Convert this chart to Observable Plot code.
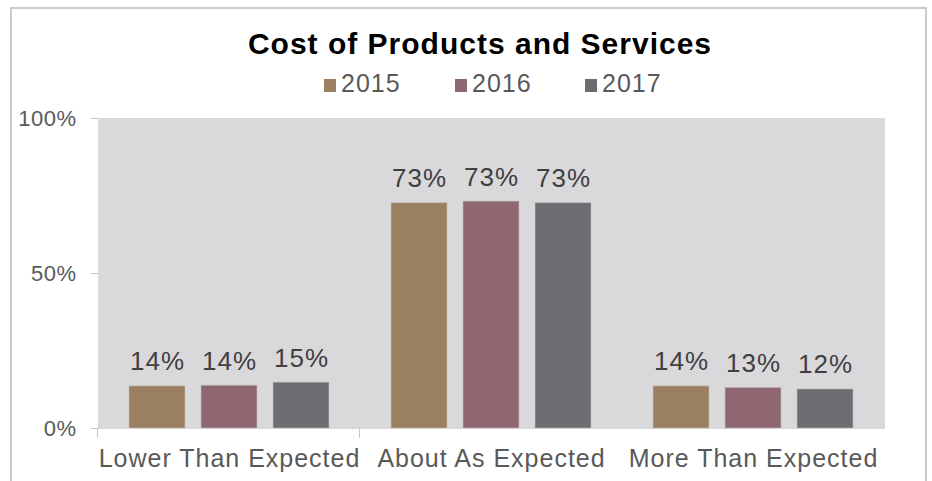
<!DOCTYPE html>
<html>
<head>
<meta charset="utf-8">
<script src="https://cdn.jsdelivr.net/npm/d3@7"></script>
<script src="https://cdn.jsdelivr.net/npm/@observablehq/plot@0.6"></script>
<style>
  html, body { margin: 0; padding: 0; background: #fff; }
  body { width: 932px; height: 481px; overflow: hidden; position: relative; font-family: "Liberation Sans", Arial, sans-serif; }
  #border { position: absolute; left: 10px; top: 7px; width: 917px; height: 520px; border: 2px solid #cbcbcb; box-sizing: border-box; }
  #title { position: absolute; left: 0; top: 29px; width: 960px; text-align: center; font-size: 30px; font-weight: bold; line-height: 30px; letter-spacing: 1px; color: #000; }
  .leg { position: absolute; top: 71px; font-size: 25px; line-height: 25px; letter-spacing: 1px; color: #595959; }
  .sw { position: absolute; top: 79px; width: 12px; height: 13px; }
  #chart { position: absolute; left: 0; top: 100px; }
  #chart g[aria-label="fx-axis tick label"] text { letter-spacing: 1px; }
  #chart g[aria-label="text"] text { letter-spacing: 1px; }
  #chart g[aria-label="y-axis tick label"] text { letter-spacing: 0.5px; }
  #chart g[aria-label="frame"] rect { shape-rendering: crispEdges; }
</style>
</head>
<body>
<div id="border"></div>
<div id="title">Cost of Products and Services</div>
<div id="legend"></div>
<div id="chart"></div>
<script>
const categories = ["Lower Than Expected", "About As Expected", "More Than Expected"];
const years = ["2015", "2016", "2017"];
const colors = ["#9a8060", "#8e6770", "#6d6c71"];
const values2015 = [13.6, 72.7, 13.6];
const values2016 = [13.8, 73.2, 13.1];
const values2017 = [14.8, 72.7, 12.6];
const labels2015 = ["14%", "73%", "14%"];
const labels2016 = ["14%", "73%", "13%"];
const labels2017 = ["15%", "73%", "12%"];
const yTicks = [0, 50, 100];

const series = [values2015, values2016, values2017];
const labelSeries = [labels2015, labels2016, labels2017];
const data = [];
categories.forEach((c, i) => {
  years.forEach((y, j) => {
    data.push({category: c, year: y, value: series[j][i], label: labelSeries[j][i]});
  });
});

// legend
const legend = document.getElementById("legend");
const legLeft = [324, 455, 585];
years.forEach((y, j) => {
  const sw = document.createElement("div");
  sw.className = "sw";
  sw.style.left = legLeft[j] + "px";
  sw.style.background = colors[j];
  legend.appendChild(sw);
  const t = document.createElement("div");
  t.className = "leg";
  t.style.left = (legLeft[j] + 17) + "px";
  t.textContent = y;
  legend.appendChild(t);
});

const chart = Plot.plot({
  width: 932,
  height: 381,
  marginTop: 18,
  marginBottom: 53,
  marginLeft: 97,
  marginRight: 48,
  style: {fontFamily: "'Liberation Sans', Arial, sans-serif", background: "transparent"},
  fx: {domain: categories, paddingInner: 0, paddingOuter: 0, label: null},
  x: {domain: years, paddingInner: 0.219, paddingOuter: 0.406, axis: null},
  y: {domain: [0, 100], axis: null},
  color: {domain: years, range: colors},
  marks: [
    Plot.frame({fill: "#d9d9db", stroke: "#d9d9db", strokeWidth: 1}),
    Plot.barY(data, {fx: "category", x: "year", y: "value", fill: "year", stroke: "#c8c3c0", strokeWidth: 1, strokeOpacity: 0.6}),
    Plot.text(data, {fx: "category", x: "year", y: "value", text: "label", lineAnchor: "bottom", dy: -16, fontSize: 26, fill: "#404040"}),
    Plot.axisY({ticks: yTicks, tickFormat: d => d + "%", tickSize: 7, tickPadding: 15, fontSize: 22, stroke: "#c6c6c6", fill: "#595959", label: null}),
    Plot.axisFx({anchor: "bottom", tickSize: 0, tickPadding: 21, fontSize: 25, fill: "#595959", label: null})
  ]
});
document.getElementById("chart").appendChild(chart);

// boundary tick stubs below each category band, derived from each facet's frame
const tickLen = 9;
chart.querySelectorAll('g[aria-label="frame"] rect').forEach(rect => {
  const b = rect.getBBox();
  [b.x, b.x + b.width].forEach(xx => {
    const l = document.createElementNS("http://www.w3.org/2000/svg", "line");
    l.setAttribute("x1", xx); l.setAttribute("x2", xx);
    l.setAttribute("y1", b.y + b.height); l.setAttribute("y2", b.y + b.height + tickLen);
    l.setAttribute("stroke", "#c6c6c6");
    rect.parentNode.appendChild(l);
  });
});
</script>
</body>
</html>
